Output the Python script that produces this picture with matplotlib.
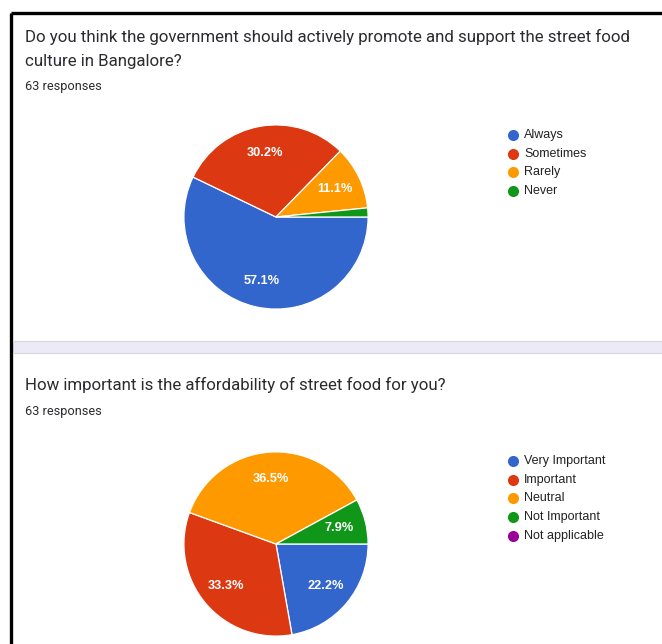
import matplotlib
matplotlib.use("Agg")
import matplotlib.pyplot as plt
from matplotlib.patches import Rectangle

# ---- data (Google Forms summary, 63 responses each) ----
q1_title = ["Do you think the government should actively promote and support the street food",
            "culture in Bangalore?"]
q1_labels = ["Always", "Sometimes", "Rarely", "Never"]
q1_counts = [36, 19, 7, 1]

q2_title = ["How important is the affordability of street food for you?"]
q2_labels = ["Very Important", "Important", "Neutral", "Not Important", "Not applicable"]
q2_counts = [14, 21, 23, 5, 0]

n_responses = 63
palette = ["#3366CC", "#DC3912", "#FF9900", "#109618", "#990099"]

W, H = 662, 644
fig = plt.figure(figsize=(W / 100, H / 100), dpi=100)
fig.patch.set_facecolor("white")

# full-figure overlay in pixel coords for frame, titles and legends
bg = fig.add_axes([0, 0, 1, 1])
bg.set_xlim(0, W); bg.set_ylim(H, 0); bg.axis("off")

# black border (top + left) and lavender separator between the two cards
bg.plot([11, W], [13, 13], color="black", lw=2.4, solid_capstyle="butt")
bg.plot([11, 11], [13, H], color="black", lw=2.4, solid_capstyle="butt")
bg.add_patch(Rectangle((12.5, 341), W - 12.5, 12, facecolor="#ECEAF7",
                       edgecolor="none"))
bg.plot([12.5, W], [341, 341], color="#D6D6DE", lw=0.8)
bg.plot([12.5, W], [353, 353], color="#D6D6DE", lw=0.8)

TITLE_FONT = ["Roboto", "DejaVu Sans"]
ARIAL = ["Liberation Sans", "DejaVu Sans"]


def card_text(lines, y0, resp_y):
    for i, line in enumerate(lines):
        bg.text(25, y0 + i * 24, line, fontsize=12.2, family=TITLE_FONT,
                color="#2b2c2f", va="center", ha="left")
    bg.text(25, resp_y, f"{n_responses} responses", fontsize=9.2,
            family=TITLE_FONT, color="#2b2c2f", va="center", ha="left")


def legend(labels, y0, step=18.7):
    for i, lab in enumerate(labels):
        y = y0 + i * step
        bg.scatter([513], [y], s=64, color=palette[i], zorder=3, linewidths=0)
        bg.text(524, y, lab, fontsize=9.0, family=ARIAL, color="#222222",
                va="center", ha="left")


def pie(counts, cx, cy, r=93):
    ax = fig.add_axes([(cx - r) / W, (H - cy - r) / H, 2 * r / W, 2 * r / H])
    fmt = lambda p: f"{p:.1f}%" if p >= 5 else ""
    vals = [c for c in counts if c > 0]
    _, _, autotexts = ax.pie(vals, colors=palette[:len(vals)], startangle=0,
                             counterclock=False, radius=1, autopct=fmt,
                             pctdistance=0.71,
                             wedgeprops=dict(edgecolor="white", linewidth=0.9))
    for t in autotexts:
        t.set_color("white"); t.set_fontsize(9.2); t.set_family(ARIAL)
        t.set_fontweight("bold")
    ax.set_xlim(-1.01, 1.01); ax.set_ylim(-1.01, 1.01)
    ax.set_aspect("auto")
    ax.axis("off")
    return ax


card_text(q1_title, 37, 86)
legend(q1_labels, 135)
pie(q1_counts, 276, 217)

card_text(q2_title, 385, 411)
legend(q2_labels, 461)
pie(q2_counts, 276, 544)

fig.savefig("out.png", dpi=100, facecolor="white")
